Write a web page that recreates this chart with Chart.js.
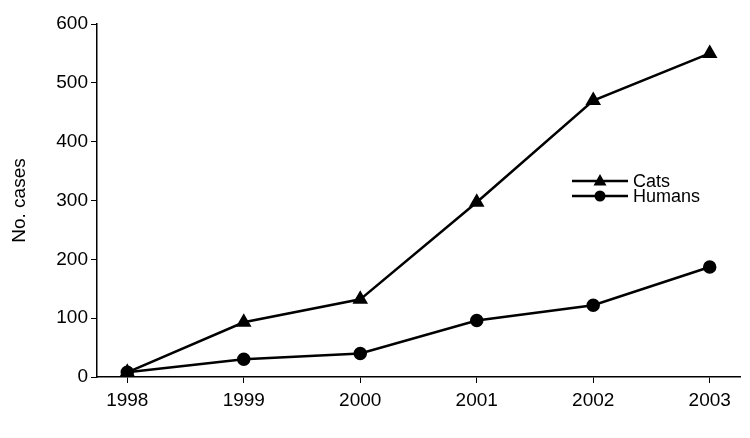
<!DOCTYPE html>
<html><head><meta charset="utf-8">
<script src="https://cdn.jsdelivr.net/npm/chart.js@4"></script>
<style>html,body{margin:0;background:#fff}#wrap{width:750px;height:438px}</style>
</head><body><div id="wrap"><canvas id="c"></canvas></div>
<script>
const years = [1998, 1999, 2000, 2001, 2002, 2003];
const cats = [8, 93, 132, 297, 470, 550];
const humans = [8, 30, 40, 96, 122, 187];
const yTicks = [0, 100, 200, 300, 400, 500, 600];

const toXY = arr => arr.map((v, i) => ({ x: years[i], y: v }));
const FONT = '"Liberation Sans", Arial, sans-serif';

// legend drawn inside the plot, to the right
const innerLegend = {
  id: 'innerLegend',
  afterDraw(chart) {
    const ctx = chart.ctx;
    const rows = [
      { label: 'Cats', style: 'triangle', y: 181 },
      { label: 'Humans', style: 'circle', y: 196 }
    ];
    ctx.save();
    rows.forEach(r => {
      const y = r.y;
      ctx.strokeStyle = '#000'; ctx.lineWidth = 2.5;
      ctx.beginPath(); ctx.moveTo(572, y); ctx.lineTo(628, y); ctx.stroke();
      ctx.fillStyle = '#000';
      ctx.beginPath();
      if (r.style === 'circle') ctx.arc(600, y, 5.5, 0, Math.PI * 2);
      else { ctx.moveTo(600, y - 7); ctx.lineTo(606.5, y + 4.5); ctx.lineTo(593.5, y + 4.5); ctx.closePath(); }
      ctx.fill();
      ctx.font = '18px ' + FONT;
      ctx.textBaseline = 'middle';
      ctx.fillText(r.label, 633, y + 1);
    });
    ctx.restore();
  }
};

new Chart(document.getElementById('c'), {
  type: 'line',
  data: {
    datasets: [
      { label: 'Cats', data: toXY(cats), borderColor: '#000', backgroundColor: '#000', borderWidth: 2.5,
        pointStyle: 'triangle', pointRadius: 6.5, tension: 0 },
      { label: 'Humans', data: toXY(humans), borderColor: '#000', backgroundColor: '#000', borderWidth: 2.5,
        pointStyle: 'circle', pointRadius: 5.5, tension: 0 }
    ]
  },
  options: {
    responsive: true, maintainAspectRatio: false, animation: false,
    layout: { padding: { left: 4, right: 10, top: 24, bottom: 0 } },
    plugins: { legend: { display: false }, tooltip: { enabled: false } },
    scales: {
      x: {
        type: 'linear', min: 1997.74, max: 2003.26,
        afterBuildTicks: s => { s.ticks = years.map(v => ({ value: v })); },
        grid: { drawOnChartArea: false, color: '#000', tickLength: 6 },
        border: { color: '#000', width: 1.5 },
        ticks: { color: '#000', padding: 6, font: { size: 19, family: FONT }, callback: v => String(v) },
        afterFit: s => { s.height = 61; }
      },
      y: {
        min: 0, max: 600,
        afterBuildTicks: s => { s.ticks = yTicks.map(v => ({ value: v })); },
        grid: { drawOnChartArea: false, color: '#000', tickLength: 6 },
        border: { color: '#000', width: 1.5 },
        ticks: { color: '#000', font: { size: 19, family: FONT } },
        title: { display: true, text: 'No. cases', color: '#000', font: { size: 19, family: FONT } },
        afterFit: s => { s.width = 93; }
      }
    }
  },
  plugins: [innerLegend]
});
</script></body></html>
